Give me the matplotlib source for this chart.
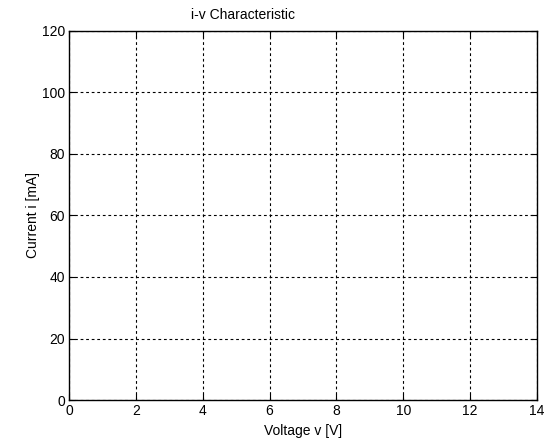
import matplotlib
matplotlib.use('Agg')
import matplotlib.pyplot as plt

# axis settings (no data curve is visible)
x_ticks = [0, 2, 4, 6, 8, 10, 12, 14]
y_ticks = [0, 20, 40, 60, 80, 100, 120]
voltage = []
current = []

plt.rcParams['font.family'] = ['Liberation Sans', 'DejaVu Sans']

fig = plt.figure(figsize=(5.49, 4.38), dpi=100)
ax = fig.add_axes([69/549, 38/438, 468/549, 369/438])

ax.plot(voltage, current, 'b-')
ax.set_xlim(0, 14)
ax.set_ylim(0, 120)
ax.set_xticks(x_ticks)
ax.set_yticks(y_ticks)
ax.tick_params(direction='in', length=4, labelsize=10, colors='black', top=True, right=True, pad=3)
ax.grid(True, color='black', linestyle=(0, (2.5, 2.5)), linewidth=0.8)
for s in ax.spines.values():
    s.set_linewidth(1.0)

ax.set_xlabel('Voltage v [V]', fontsize=10, labelpad=4)
ax.set_ylabel('Current i [mA]', fontsize=10, labelpad=1)
fig.text(243/549, 1 - 15/438, 'i-v Characteristic', ha='center', va='center', fontsize=10)

fig.savefig('out.png', dpi=100)
